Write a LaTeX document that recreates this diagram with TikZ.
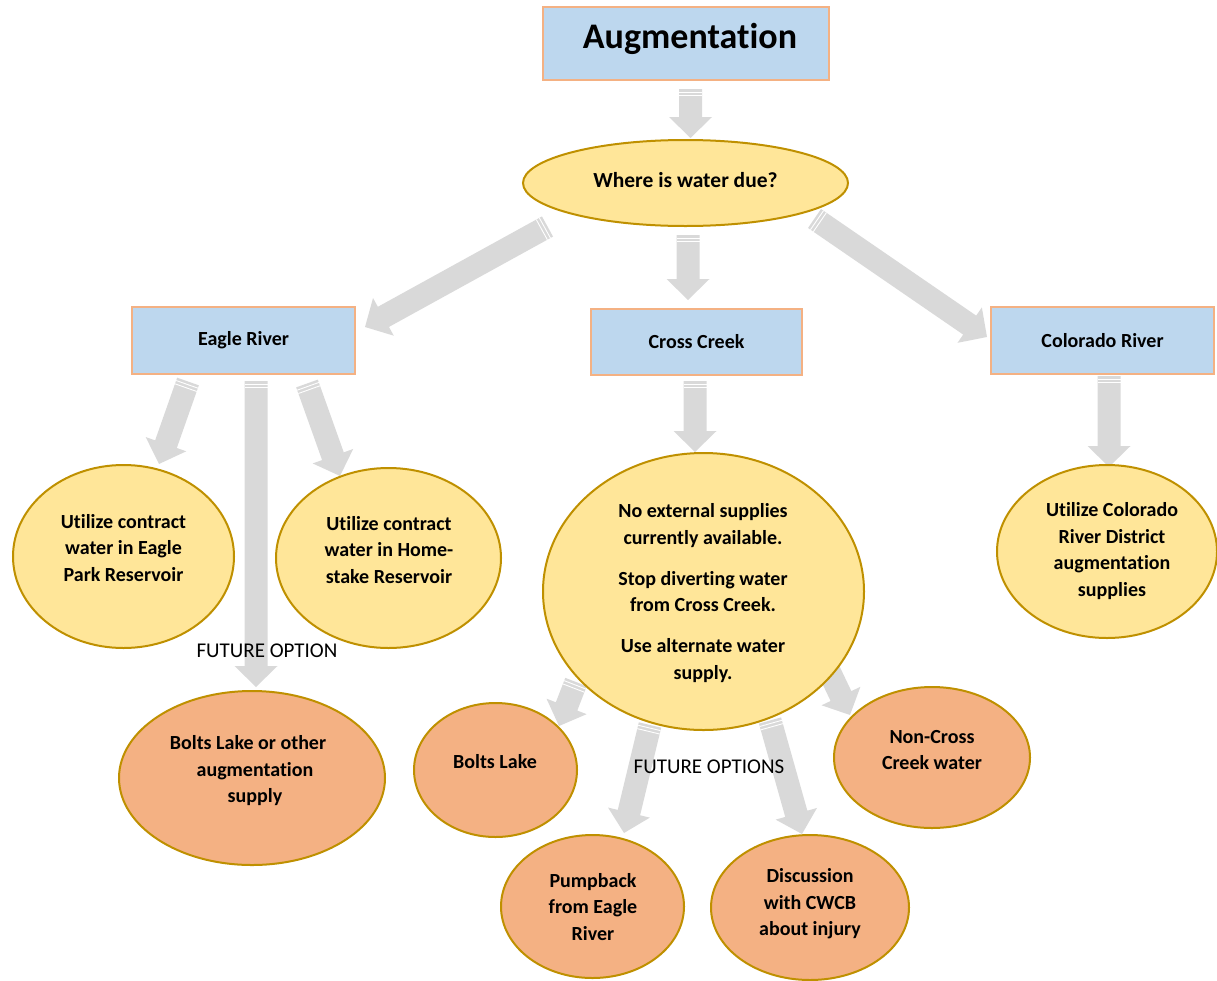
\documentclass[tikz,border=0pt]{standalone}
\usepackage{fontspec}
\setmainfont{Carlito}[Ligatures={NoCommon}, Contextuals={NoAlternate}]
\usetikzlibrary{shapes.geometric}
\definecolor{boxblue}{HTML}{BDD7EE}
\definecolor{boxedge}{HTML}{F4B183}
\definecolor{yellfill}{HTML}{FFE699}
\definecolor{goldedge}{HTML}{BF9000}
\definecolor{orangefill}{HTML}{F4B183}
\definecolor{arrowgray}{HTML}{D9D9D9}
\newcommand\blockarrow[2]{%
  \pgfpointdiff{\pgfpointanchor{#1}{center}}{\pgfpointanchor{#2}{center}}%
  \pgfgetlastxy{\bdx}{\bdy}%
  \pgfmathsetmacro\bang{atan2(\bdy,\bdx)}%
  \pgfmathsetmacro\blen{veclen(\bdx,\bdy)}%
  \begin{scope}[shift={(#1)}, rotate=\bang, x=1pt, y=1pt]
    \fill[arrowgray] (0,-11.5) -- (\blen-21,-11.5) -- (\blen-21,-21.5) -- (\blen,0)
      -- (\blen-21,21.5) -- (\blen-21,11.5) -- (0,11.5) -- cycle;
    \draw[white, line width=0.9pt] (3,-11.5) -- (3,11.5) (6.5,-11.5) -- (6.5,11.5);
  \end{scope}}
\tikzset{
  bluebox/.style={draw=boxedge, fill=boxblue, line width=2pt, inner sep=0pt, font=\fontsize{20}{24}\selectfont\bfseries},
  yellell/.style={ellipse, draw=goldedge, fill=yellfill, line width=2pt, inner sep=0pt},
  orangeell/.style={ellipse, draw=goldedge, fill=orangefill, line width=2pt, inner sep=0pt},
  txt/.style={align=center, inner sep=0pt, font=\fontsize{20}{26.5}\selectfont\bfseries},
  plaintxt/.style={inner sep=0pt, font=\fontsize{21}{25}\selectfont},
}
\begin{document}
\begin{tikzpicture}[x=1pt, y=-1pt]
\useasboundingbox (0,0) rectangle (1217,980);
% arrow end points
\coordinate (a1s) at (690.5,89);  \coordinate (a1e) at (690.5,138);
\coordinate (a2s) at (547.5,226.5); \coordinate (a2e) at (365,327);
\coordinate (a3s) at (688,235);   \coordinate (a3e) at (688,300);
\coordinate (a4s) at (814.5,218.5); \coordinate (a4e) at (987,337);
\coordinate (a5s) at (188,381.5); \coordinate (a5e) at (159,464);
\coordinate (a6s) at (256,381);   \coordinate (a6e) at (256,687);
\coordinate (a7s) at (307,383.5); \coordinate (a7e) at (340,476);
\coordinate (a8s) at (695,381);   \coordinate (a8e) at (695,452);
\coordinate (a9s) at (1109,376);  \coordinate (a9e) at (1109,467);
\coordinate (a10s) at (576,682);  \coordinate (a10e) at (559,726);
\coordinate (a11s) at (650,725);  \coordinate (a11e) at (624,833);
\coordinate (a12s) at (770,720.5); \coordinate (a12e) at (802,834);
\coordinate (a13s) at (820,652);  \coordinate (a13e) at (850,715);
% arrows
\blockarrow{a1s}{a1e}
\blockarrow{a2s}{a2e}
\blockarrow{a3s}{a3e}
\blockarrow{a4s}{a4e}
\blockarrow{a5s}{a5e}
\blockarrow{a6s}{a6e}
\blockarrow{a7s}{a7e}
\blockarrow{a8s}{a8e}
\blockarrow{a9s}{a9e}
\blockarrow{a10s}{a10e}
\blockarrow{a11s}{a11e}
\blockarrow{a12s}{a12e}
\blockarrow{a13s}{a13e}
% boxes
\node[bluebox, minimum width=286, minimum height=73] (aug) at (686,43.5) {};
\node[txt, font=\fontsize{36}{40}\selectfont\bfseries] (augt) at (690,39) {Augmentation};
\node[bluebox, minimum width=223, minimum height=67] (eagle) at (243.5,340.5) {Eagle River};
\node[bluebox, minimum width=211, minimum height=66] (cross) at (696.5,342) {Cross Creek};
\node[bluebox, minimum width=223, minimum height=67] (colo) at (1102.5,340.5) {Colorado River};
% yellow ellipses
\node[yellell, minimum width=325, minimum height=86] (where) at (685.5,183) {};
\node[txt, font=\fontsize{21.5}{26}\selectfont\bfseries] (wheret) at (685.5,180) {Where is water due?};
\node[yellell, minimum width=221, minimum height=183] (epark) at (123.5,556.5) {};
\node[txt] (eparkt) at (123.5,548) {Utilize contract\\water in Eagle\\Park Reservoir};
\node[yellell, minimum width=225, minimum height=180] (homes) at (388.5,558) {};
\node[txt] (homest) at (389,550) {Utilize contract\\water in Home-\\stake Reservoir};
\node[yellell, minimum width=321, minimum height=277] (nosup) at (703.5,591.5) {};
\node[txt] (nosupt) at (703,593) {No external supplies\\currently available.\\[14.5pt]Stop diverting water\\from Cross Creek.\\[14.5pt]Use alternate water\\supply.};
\node[yellell, minimum width=220, minimum height=173] (cdist) at (1107,551.5) {};
\node[txt] (cdistt) at (1112,551) {Utilize Colorado\\River District\\augmentation\\supplies};
% orange ellipses
\node[orangeell, minimum width=266, minimum height=174] (bother) at (252,778) {};
\node[txt] (bothert) at (248,771) {Bolts Lake or other\\\hspace*{0.7em}augmentation\\\hspace*{0.7em}supply};
\node[orangeell, minimum width=163, minimum height=134] (blake) at (495.5,770) {};
\node[txt] (blaket) at (495,762) {Bolts Lake};
\node[orangeell, minimum width=183, minimum height=143] (pump) at (592.5,906.5) {};
\node[txt] (pumpt) at (593,907) {Pumpback\\from Eagle\\River};
\node[orangeell, minimum width=198, minimum height=145] (disc) at (810,907.5) {};
\node[txt] (disct) at (810,904) {Discussion\\with CWCB\\about injury};
\node[orangeell, minimum width=196, minimum height=141] (noncr) at (932,757.5) {};
\node[txt] (noncrt) at (932,750) {Non-Cross\\Creek water};
% plain labels
\node[plaintxt] (fut1) at (267,651) {FUTURE OPTION};
\node[plaintxt] (fut2) at (709,767) {FUTURE OPTIONS};
\end{tikzpicture}
\end{document}
